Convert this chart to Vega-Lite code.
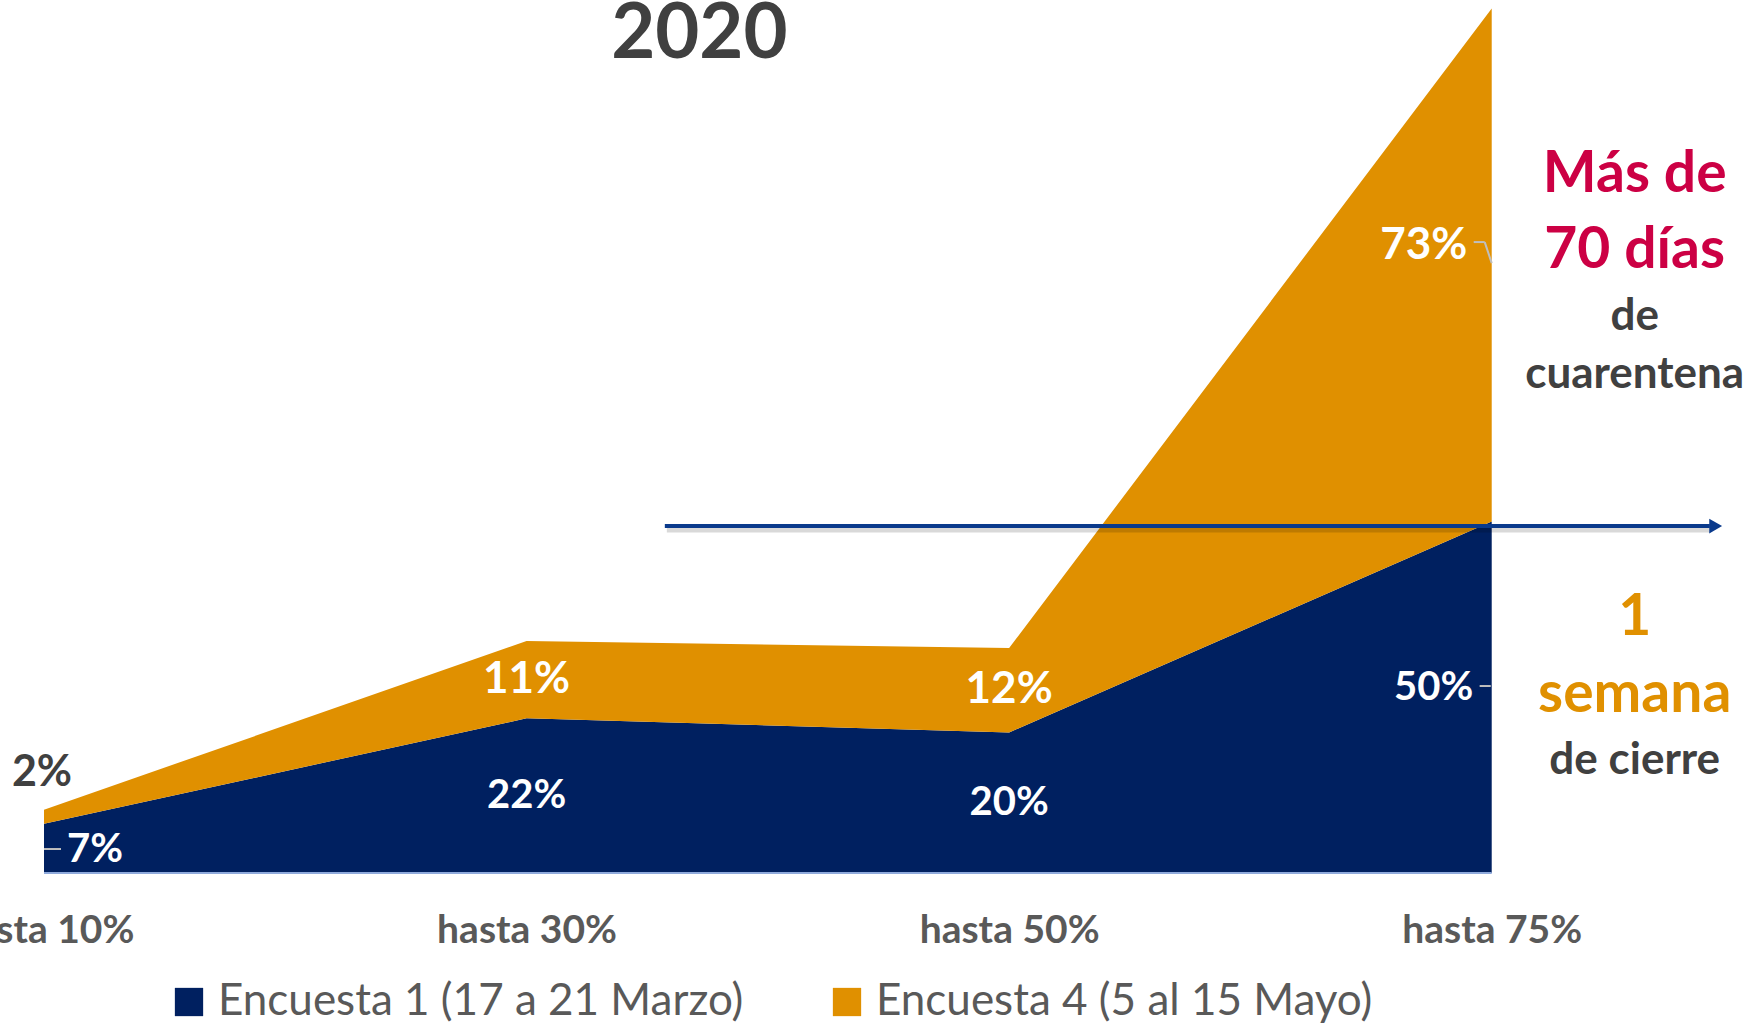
{
  "$schema": "https://vega.github.io/schema/vega-lite/v6.json",
  "width": 1689,
  "height": 873,
  "autosize": {"type": "none"},
  "padding": {"left": 44, "top": 0, "right": 29, "bottom": 151},
  "background": "white",
  "config": {"view": {"stroke": null}, "font": "Lato", "axis": {"grid": false}},
  "datasets": {
    "d": [
      {"cat": "hasta 10%", "i": 0, "serie": "Encuesta 1 (17 a 21 Marzo)", "v": 0.07},
      {"cat": "hasta 30%", "i": 1, "serie": "Encuesta 1 (17 a 21 Marzo)", "v": 0.22},
      {"cat": "hasta 50%", "i": 2, "serie": "Encuesta 1 (17 a 21 Marzo)", "v": 0.20},
      {"cat": "hasta 75%", "i": 3, "serie": "Encuesta 1 (17 a 21 Marzo)", "v": 0.50},
      {"cat": "hasta 10%", "i": 0, "serie": "Encuesta 4 (5 al 15 Mayo)", "v": 0.02},
      {"cat": "hasta 30%", "i": 1, "serie": "Encuesta 4 (5 al 15 Mayo)", "v": 0.11},
      {"cat": "hasta 50%", "i": 2, "serie": "Encuesta 4 (5 al 15 Mayo)", "v": 0.12},
      {"cat": "hasta 75%", "i": 3, "serie": "Encuesta 4 (5 al 15 Mayo)", "v": 0.73}
    ]
  },
  "data": {"name": "d"},
  "layer": [
    {
      "mark": {"type": "area", "opacity": 1},
      "encoding": {
        "x": {
          "field": "i", "type": "quantitative",
          "scale": {"domain": [0, 3.5], "nice": false, "zero": false},
          "axis": {
            "values": [0, 1, 2, 3],
            "labelExpr": "['hasta 10%','hasta 30%','hasta 50%','hasta 75%'][datum.value]",
            "labelFont": "Lato", "labelFontWeight": "bold", "labelFontSize": 39,
            "labelColor": "#595959", "ticks": false, "tickSize": 0, "domain": false,
            "grid": false, "labelPadding": 38, "labelFlush": false, "labelOverlap": false,
            "labelBound": false, "title": null
          }
        },
        "y": {
          "field": "v", "type": "quantitative", "stack": "zero",
          "scale": {"domain": [0, 1.242], "nice": false}, "axis": null
        },
        "color": {
          "field": "serie", "type": "nominal",
          "scale": {"domain": ["Encuesta 1 (17 a 21 Marzo)", "Encuesta 4 (5 al 15 Mayo)"], "range": ["#002060", "#E09000"]},
          "legend": {
            "orient": "none", "legendX": 123, "legendY": 980, "direction": "horizontal",
            "title": null, "symbolType": "square", "symbolSize": 800, "symbolStrokeWidth": 0,
            "symbolOpacity": 1, "labelFont": "Lato", "labelFontSize": 44, "labelColor": "#595959",
            "labelOffset": 7, "labelLimit": 800, "columnPadding": 81
          }
        },
        "order": {"field": "serie", "sort": "ascending"}
      }
    },
    {
      "data": {"values": [{}]},
      "mark": {"type": "rule", "color": "#8FAADC", "strokeWidth": 2},
      "encoding": {
        "x": {"datum": 0, "type": "quantitative"},
        "x2": {"datum": 3},
        "y": {"datum": 0, "type": "quantitative"}
      }
    },
    {
      "transform": [
        {"stack": "v", "groupby": ["i"], "sort": [{"field": "serie", "order": "ascending"}], "as": ["v0", "v1"]},
        {"calculate": "(datum.v0 + datum.v1) / 2", "as": "vm"}
      ],
      "encoding": {
        "x": {"field": "i", "type": "quantitative"},
        "y": {"field": "vm", "type": "quantitative"},
        "text": {"field": "v", "type": "quantitative", "format": ".0%"}
      },
      "layer": [
        {
          "transform": [{"filter": "(datum.i == 1 || datum.i == 2) && datum.serie == 'Encuesta 1 (17 a 21 Marzo)'"}],
          "mark": {"type": "text", "font": "Lato", "fontWeight": "bold", "color": "white", "align": "center", "baseline": "middle", "fontSize": 40}
        },
        {
          "transform": [{"filter": "(datum.i == 1 || datum.i == 2) && datum.serie == 'Encuesta 4 (5 al 15 Mayo)'"}],
          "mark": {"type": "text", "font": "Lato", "fontWeight": "bold", "color": "white", "align": "center", "baseline": "middle", "fontSize": 44}
        },
        {
          "transform": [{"filter": "datum.i == 0 && datum.serie == 'Encuesta 1 (17 a 21 Marzo)'"}],
          "mark": {"type": "text", "font": "Lato", "fontWeight": "bold", "color": "white", "align": "center", "baseline": "middle", "fontSize": 40, "dx": 51, "dy": 2}
        },
        {
          "transform": [{"filter": "datum.i == 3 && datum.serie == 'Encuesta 1 (17 a 21 Marzo)'"}],
          "mark": {"type": "text", "font": "Lato", "fontWeight": "bold", "color": "white", "align": "center", "baseline": "middle", "fontSize": 40, "dx": -58, "dy": -9}
        },
        {
          "transform": [{"filter": "datum.i == 3 && datum.serie == 'Encuesta 4 (5 al 15 Mayo)'"}],
          "mark": {"type": "text", "font": "Lato", "fontWeight": "bold", "color": "white", "align": "center", "baseline": "middle", "fontSize": 44, "dx": -68, "dy": -19}
        },
        {
          "transform": [{"filter": "datum.i == 0 && datum.serie == 'Encuesta 4 (5 al 15 Mayo)'"}],
          "mark": {"type": "text", "font": "Lato", "fontWeight": "bold", "color": "#404040", "align": "center", "baseline": "middle", "fontSize": 43, "dx": -2, "dy": -44}
        }
      ]
    },
    {
      "data": {"values": [{}]},
      "mark": {"type": "rule", "color": "#BFBFBF", "strokeWidth": 2},
      "encoding": {"x": {"datum": 0, "type": "quantitative"}, "x2": {"datum": 0.0352}, "y": {"datum": 0.0341, "type": "quantitative"}}
    },
    {
      "data": {"values": [{}]},
      "mark": {"type": "rule", "color": "#BFBFBF", "strokeWidth": 2},
      "encoding": {"x": {"datum": 2.9627, "type": "quantitative"}, "x2": {"datum": 2.9855}, "y": {"datum": 0.8976, "type": "quantitative"}, "y2": {"datum": 0.8976}}
    },
    {
      "data": {"values": [{}]},
      "mark": {"type": "rule", "color": "#BFBFBF", "strokeWidth": 2},
      "encoding": {"x": {"datum": 2.9855, "type": "quantitative"}, "x2": {"datum": 3}, "y": {"datum": 0.8976, "type": "quantitative"}, "y2": {"datum": 0.8677}}
    },
    {
      "data": {"values": [{}]},
      "mark": {"type": "rule", "color": "#BFBFBF", "strokeWidth": 2},
      "encoding": {"x": {"datum": 2.975, "type": "quantitative"}, "x2": {"datum": 2.998}, "y": {"datum": 0.266, "type": "quantitative"}, "y2": {"datum": 0.266}}
    },
    {
      "data": {"values": [{}]},
      "mark": {"type": "rule", "color": "#000000", "opacity": 0.15, "strokeWidth": 5, "xOffset": 2, "yOffset": 4},
      "encoding": {"x": {"datum": 1.2865, "type": "quantitative"}, "x2": {"datum": 3.452}, "y": {"datum": 0.4936, "type": "quantitative"}}
    },
    {
      "data": {"values": [{}]},
      "mark": {"type": "rule", "color": "#0A3A8C", "strokeWidth": 4},
      "encoding": {"x": {"datum": 1.2865, "type": "quantitative"}, "x2": {"datum": 3.452}, "y": {"datum": 0.4936, "type": "quantitative"}}
    },
    {
      "data": {"values": [{}]},
      "mark": {"type": "point", "shape": "triangle-right", "filled": true, "color": "#0A3A8C", "size": 220, "opacity": 1},
      "encoding": {"x": {"datum": 3.4641, "type": "quantitative"}, "y": {"datum": 0.4936, "type": "quantitative"}}
    },
    {
      "data": {"values": [{}]},
      "mark": {"type": "text", "text": "2020", "font": "Lato", "fontWeight": "bold", "fontSize": 76, "color": "#404040", "align": "center", "baseline": "alphabetic"},
      "encoding": {"x": {"datum": 1.358, "type": "quantitative"}, "y": {"datum": 1.159, "type": "quantitative"}}
    },
    {
      "data": {"values": [{}]},
      "mark": {"type": "text", "text": "Más de", "font": "Lato", "fontWeight": "bold", "fontSize": 57, "color": "#CC0044", "align": "center", "baseline": "alphabetic"},
      "encoding": {"x": {"datum": 3.2963, "type": "quantitative"}, "y": {"datum": 0.9687, "type": "quantitative"}}
    },
    {
      "data": {"values": [{}]},
      "mark": {"type": "text", "text": "70 días", "font": "Lato", "fontWeight": "bold", "fontSize": 57, "color": "#CC0044", "align": "center", "baseline": "alphabetic"},
      "encoding": {"x": {"datum": 3.2963, "type": "quantitative"}, "y": {"datum": 0.8606, "type": "quantitative"}}
    },
    {
      "data": {"values": [{}]},
      "mark": {"type": "text", "text": "de", "font": "Lato", "fontWeight": "bold", "fontSize": 44, "color": "#404040", "align": "center", "baseline": "alphabetic"},
      "encoding": {"x": {"datum": 3.2963, "type": "quantitative"}, "y": {"datum": 0.7724, "type": "quantitative"}}
    },
    {
      "data": {"values": [{}]},
      "mark": {"type": "text", "text": "cuarentena", "font": "Lato", "fontWeight": "bold", "fontSize": 44, "color": "#404040", "align": "center", "baseline": "alphabetic"},
      "encoding": {"x": {"datum": 3.2963, "type": "quantitative"}, "y": {"datum": 0.6899, "type": "quantitative"}}
    },
    {
      "data": {"values": [{}]},
      "mark": {"type": "text", "text": "1", "font": "Lato", "fontWeight": "bold", "fontSize": 57, "color": "#E09000", "align": "center", "baseline": "alphabetic"},
      "encoding": {"x": {"datum": 3.2963, "type": "quantitative"}, "y": {"datum": 0.3385, "type": "quantitative"}}
    },
    {
      "data": {"values": [{}]},
      "mark": {"type": "text", "text": "semana", "font": "Lato", "fontWeight": "bold", "fontSize": 57, "color": "#E09000", "align": "center", "baseline": "alphabetic"},
      "encoding": {"x": {"datum": 3.2963, "type": "quantitative"}, "y": {"datum": 0.229, "type": "quantitative"}}
    },
    {
      "data": {"values": [{}]},
      "mark": {"type": "text", "text": "de cierre", "font": "Lato", "fontWeight": "bold", "fontSize": 44, "color": "#404040", "align": "center", "baseline": "alphabetic"},
      "encoding": {"x": {"datum": 3.2963, "type": "quantitative"}, "y": {"datum": 0.1408, "type": "quantitative"}}
    }
  ]
}
